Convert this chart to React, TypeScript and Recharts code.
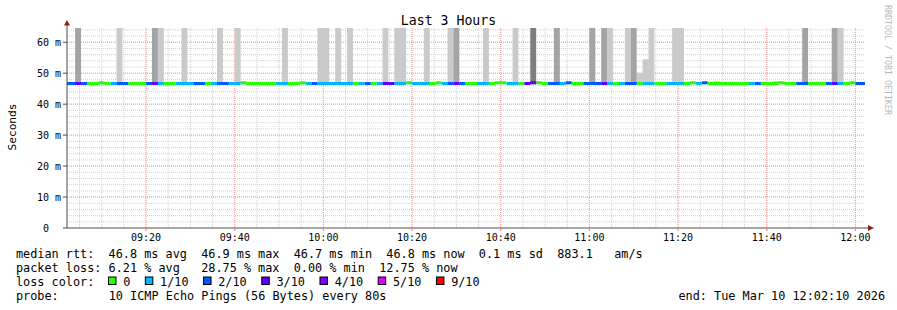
import React from 'react';
import { ComposedChart, Area, XAxis, YAxis, CartesianGrid, ReferenceDot } from 'recharts';

// rrd step of the probe, first step start (partly off the left edge) and the shown range
const STEP_SECONDS = 80;
const FIRST_STEP = '09:01:20';
const RANGE_START = '09:02:10';
const RANGE_END = '12:02:10';

// one entry per 80s step, 09:01:20 .. 12:01:20
// loss colour bucket of the median line (index into lossLabels)
const lossBucket = [
  2, 2, 3, 2, 0, 0, 0, 0, 1, 2, 2,
  0, 0, 0, 2, 3, 1, 0, 0, 1, 1,
  1, 2, 2, 0, 1, 2, 2, 1, 1, 0,
  0, 0, 0, 0, 0, 1, 1, 0, 0, 0,
  1, 2, 1, 1, 1, 1, 1, 1, 0, 1,
  2, 0, 1, 3, 3, 1, 1, 0, 1, 1,
  1, 0, 0, 1, 2, 3, 2, 0, 0, 1,
  1, 0, 0, 0, 1, 1, 0, 3, 3, 0,
  0, 2, 2, 1, 2, 0, 0, 2, 2, 2,
  3, 1, 0, 1, 2, 2, 0, 1, 1, 0,
  0, 1, 1, 1, 0, 0, 1, 2, 0, 0,
  0, 0, 0, 0, 0, 1, 2, 0, 0, 0,
  0, 0, 0, 2, 2, 0, 0, 0, 2, 3,
  1, 0, 0, 2, 2,
];

// median rtt in ms
const medianMs = [
  46.65, 46.65, 46.65, 46.65, 46.65, 46.65, 46.95, 46.65, 46.65, 46.65, 46.65,
  46.65, 46.65, 46.65, 46.65, 46.65, 46.65, 46.65, 46.65, 46.65, 46.65,
  46.65, 46.65, 46.65, 46.65, 46.65, 46.65, 46.65, 46.65, 46.65, 46.95,
  46.65, 46.65, 46.65, 46.65, 46.65, 46.65, 46.65, 46.65, 46.65, 46.95,
  46.65, 46.65, 46.65, 46.65, 46.65, 46.65, 46.65, 46.65, 46.65, 46.65,
  46.65, 46.65, 46.65, 46.65, 46.65, 46.65, 46.65, 46.95, 46.65, 46.65,
  46.65, 46.65, 46.95, 46.65, 46.65, 46.65, 46.65, 46.65, 46.65, 46.65,
  46.65, 46.65, 46.95, 46.95, 46.65, 46.65, 46.65, 46.65, 46.95, 46.95,
  46.65, 46.65, 46.65, 46.65, 46.95, 46.65, 46.65, 46.65, 46.65, 46.65,
  46.65, 46.65, 46.65, 46.65, 46.65, 46.65, 46.65, 46.65, 46.65, 46.65,
  46.65, 46.65, 46.65, 46.65, 46.65, 46.95, 46.65, 46.95, 46.65, 46.65,
  46.65, 46.65, 46.65, 46.65, 46.65, 46.65, 46.65, 46.65, 46.65, 46.65,
  46.95, 46.65, 46.65, 46.65, 46.65, 46.65, 46.65, 46.65, 46.65, 46.65,
  46.65, 46.65, 46.95, 46.65, 46.65,
];

// smoke shade per step: 0 none, 1 light, 2 dark, 3 darker
const smokeShade = [
  0, 0, 2, 0, 0, 0, 0, 0, 0, 1, 0,
  0, 0, 0, 0, 2, 1, 0, 0, 0, 1,
  0, 0, 0, 0, 0, 1, 0, 0, 1, 0,
  0, 0, 0, 0, 0, 0, 1, 0, 0, 0,
  0, 0, 1, 1, 0, 1, 0, 1, 0, 0,
  0, 0, 0, 1, 0, 1, 1, 0, 0, 0,
  1, 0, 0, 0, 1, 2, 0, 0, 0, 0,
  1, 0, 0, 0, 0, 1, 0, 0, 3, 0,
  0, 0, 2, 0, 0, 0, 0, 0, 2, 0,
  2, 1, 0, 0, 1, 2, 1, 1, 1, 0,
  0, 0, 1, 1, 0, 0, 0, 0, 0, 1,
  0, 0, 0, 0, 0, 0, 0, 0, 0, 1,
  0, 0, 0, 0, 2, 0, 0, 0, 0, 2,
  1, 0, 0, 0, 0,
];

// highest ping of the smoke column in ms (most run off the top of the graph)
const N = null;
const smokeTopMs = [
  N, N, 72, N, N, N, N, N, N, 72, N,
  N, N, N, N, 72, 72, N, N, N, 72,
  N, N, N, N, N, 72, N, N, 72, N,
  N, N, N, N, N, N, 72, N, N, N,
  N, N, 72, 72, N, 72, N, 72, N, N,
  N, N, N, 72, N, 72, 72, N, N, N,
  72, N, N, N, 72, 72, N, N, N, N,
  72, N, N, N, N, 72, N, N, 72, N,
  N, N, 72, N, N, N, N, N, 72, N,
  72, 72, N, N, 72, 72, 50, 54.5, 72, N,
  N, N, 72, 72, N, N, N, N, N, 47.5,
  N, N, N, N, N, N, N, N, N, 47.5,
  N, N, N, N, 72, N, N, N, N, 72,
  72, N, N, N, N,
];

const lossLabels = ['0', '1/10', '2/10', '3/10', '4/10', '5/10', '9/10'];
const lossColors = ['#26ff00', '#00b8ff', '#0059ff', '#5e00ff', '#7e00ff', '#dd00ff', '#ff0000'];
const smokeColors = ['none', '#cacaca', '#a4a4a4', '#7e7e7e'];

const timeTickLabels = ['09:20', '09:40', '10:00', '10:20', '10:40', '11:00', '11:20', '11:40', '12:00'];
const valueTicks = [0, 10, 20, 30, 40, 50, 60];
const Y_MAX = 64.6;

const statLines = [
  'median rtt:  46.8 ms avg  46.9 ms max  46.7 ms min  46.8 ms now  0.1 ms sd  883.1   am/s',
  'packet loss: 6.21 % avg   28.75 % max  0.00 % min  12.75 % now',
];
const probeText = '10 ICMP Echo Pings (56 Bytes) every 80s';
const endText = 'end: Tue Mar 10 12:02:10 2026';

const toSeconds = (hms: string) => {
  const [h, m, s = '0'] = hms.split(':');
  return Number(h) * 3600 + Number(m) * 60 + Number(s);
};
const pad = (n: number) => String(n).padStart(2, '0');
const fmtTime = (sec: number) => `${pad(Math.floor(sec / 3600))}:${pad(Math.floor((sec % 3600) / 60))}`;

const T0 = toSeconds(RANGE_START);
const T1 = toSeconds(RANGE_END);
const majorTimeTicks = timeTickLabels.map(toSeconds);
const minorTimeTicks = Array.from({ length: 36 }, (_, k) => toSeconds('09:05') + k * 300);
const minorValueTicks = Array.from({ length: 32 }, (_, k) => 2 + k * 2);

type Row = { t: number; loss: number; median: number; shade: number; top: number | null };

const rows: Row[] = lossBucket.map((loss, i) => ({
  t: toSeconds(FIRST_STEP) + i * STEP_SECONDS,
  loss,
  median: medianMs[i],
  shade: smokeShade[i],
  top: smokeTopMs[i],
}));
// closing point so the last step gets its width
rows.push({ ...rows[rows.length - 1], t: rows[rows.length - 1].t + STEP_SECONDS });

const SMOKE_BASE = 46.4;
const LINE_HALF = 0.49;
const MONO = "'DejaVu Sans Mono', monospace";
const AXIS = '#4d4d4d';
const ARROW = '#902020';

const ValueTick = (props: any) => {
  const { x, y, payload } = props;
  const label = payload.value === 0 ? '0\u00a0\u00a0' : `${payload.value} m`;
  return (
    <text x={x} y={y} dy={3.6} textAnchor="end" fontFamily={MONO} fontSize={10} fill="#000">
      {label}
    </text>
  );
};

const TimeTick = (props: any) => {
  const { x, y, payload } = props;
  return (
    <text x={x} y={y} dy={8} textAnchor="middle" fontFamily={MONO} fontSize={10} fill="#000">
      {fmtTime(payload.value)}
    </text>
  );
};

const RightArrow = (props: any) => {
  const { cx, cy } = props;
  return (
    <g>
      <line x1={cx} y1={cy} x2={cx + 3} y2={cy} stroke={AXIS} />
      <polygon points={`${cx + 3},${cy - 3} ${cx + 9},${cy} ${cx + 3},${cy + 3}`} fill={ARROW} />
    </g>
  );
};

const UpArrow = (props: any) => {
  const { cx, cy } = props;
  return (
    <g>
      <line x1={cx} y1={cy} x2={cx} y2={cy - 3} stroke={AXIS} />
      <polygon points={`${cx - 3},${cy - 2.5} ${cx},${cy - 8} ${cx + 3},${cy - 2.5}`} fill={ARROW} />
    </g>
  );
};

const textStyle: React.CSSProperties = { whiteSpace: 'pre' };

const LossLegend = () => {
  let x = 108.5;
  const items = lossLabels.map((label, k) => {
    const boxX = x;
    x += 14.7 + label.length * 7.13 + 15;
    return (
      <g key={label}>
        <rect x={boxX} y={277} width={7.5} height={7.5} fill={lossColors[k]} stroke="#000" strokeWidth={1} />
        <text x={boxX + 14.7} y={285.5} fontFamily={MONO} fontSize={11.84} fill="#000">
          {label}
        </text>
      </g>
    );
  });
  return <g>{items}</g>;
};

export default function App() {
  return (
    <div style={{ position: 'absolute', left: 0, top: 0, width: 897, height: 310, background: '#fff' }}>
      <ComposedChart
        width={897}
        height={310}
        data={rows}
        margin={{ top: 28, right: 32, bottom: 62, left: 0 }}
      >
        <CartesianGrid
          stroke="#d0d0d0"
          strokeDasharray="1 1"
          verticalValues={minorTimeTicks}
          horizontalValues={minorValueTicks}
        />
        <CartesianGrid
          stroke="#f0a0a0"
          strokeDasharray="1 1"
          verticalValues={majorTimeTicks}
          horizontalValues={valueTicks.slice(1)}
        />

        {[1, 2, 3].map((s) => (
          <Area
            key={`smoke-${s}`}
            type="stepAfter"
            dataKey={(d: Row) => (d.shade === s && d.top != null ? [SMOKE_BASE, d.top] : [SMOKE_BASE, SMOKE_BASE])}
            stroke="none"
            fill={smokeColors[s]}
            fillOpacity={1}
            dot={false}
            activeDot={false}
            isAnimationActive={false}
          />
        ))}
        {lossColors.map((color, k) => (
          <Area
            key={`loss-${k}`}
            type="stepAfter"
            dataKey={(d: Row) =>
              d.loss === k ? [d.median - LINE_HALF, d.median + LINE_HALF] : [d.median, d.median]
            }
            stroke="none"
            fill={color}
            fillOpacity={1}
            dot={false}
            activeDot={false}
            isAnimationActive={false}
          />
        ))}

        <XAxis
          type="number"
          dataKey="t"
          domain={[T0, T1]}
          allowDataOverflow
          ticks={majorTimeTicks}
          interval={0}
          height={20}
          axisLine={{ stroke: AXIS }}
          tickLine={{ stroke: '#e08080' }}
          tickSize={3}
          tickMargin={2}
          tick={<TimeTick />}
        />
        <YAxis
          type="number"
          domain={[0, Y_MAX]}
          allowDataOverflow
          ticks={valueTicks}
          interval={0}
          width={67}
          axisLine={{ stroke: AXIS }}
          tickLine={{ stroke: AXIS }}
          tickSize={4}
          tickMargin={2}
          tick={<ValueTick />}
        />
        <ReferenceDot x={T1} y={0} ifOverflow="visible" shape={(p: any) => <RightArrow {...p} />} />
        <ReferenceDot x={T0} y={Y_MAX} ifOverflow="visible" shape={(p: any) => <UpArrow {...p} />} />
      </ComposedChart>

      <svg
        width={897}
        height={310}
        style={{ position: 'absolute', left: 0, top: 0, pointerEvents: 'none' }}
      >
        <text x={448.5} y={24.5} textAnchor="middle" fontFamily={MONO} fontSize={13.2} fill="#000">
          Last 3 Hours
        </text>
        <text
          x={15.5}
          y={127}
          transform="rotate(-90 15.5 127)"
          textAnchor="middle"
          fontFamily={MONO}
          fontSize={11.2}
          fill="#000"
        >
          Seconds
        </text>
        <text
          x={885}
          y={5}
          transform="rotate(90 885 5)"
          fontFamily={MONO}
          fontSize={8.3}
          fill="#b8b8b8"
        >
          RRDTOOL / TOBI OETIKER
        </text>
        {statLines.map((line, i) => (
          <text key={i} x={16} y={257.5 + i * 14} fontFamily={MONO} fontSize={11.84} fill="#000" style={textStyle} xmlSpace="preserve">
            {line}
          </text>
        ))}
        <text x={16} y={285.5} fontFamily={MONO} fontSize={11.84} fill="#000">
          loss color:
        </text>
        <LossLegend />
        <text x={16} y={299.5} fontFamily={MONO} fontSize={11.84} fill="#000">
          probe:
        </text>
        <text x={108.7} y={299.5} fontFamily={MONO} fontSize={11.84} fill="#000" style={textStyle}>
          {probeText}
        </text>
        <text x={885} y={299.5} textAnchor="end" fontFamily={MONO} fontSize={11.84} fill="#000" style={textStyle}>
          {endText}
        </text>
      </svg>
    </div>
  );
}
